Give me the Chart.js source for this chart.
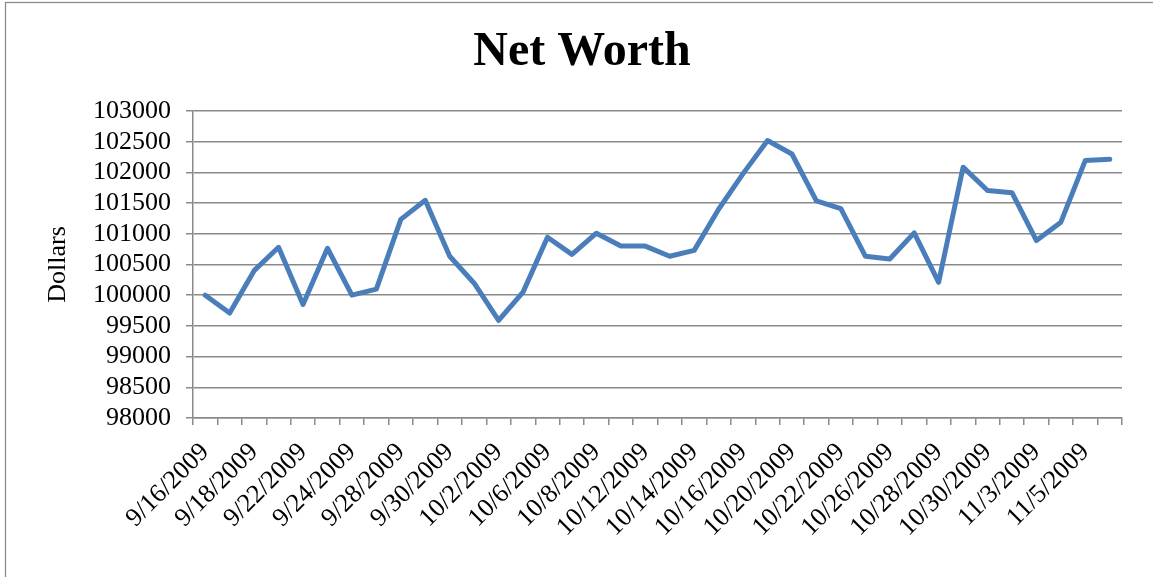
<!DOCTYPE html>
<html>
<head>
<meta charset="utf-8">
<script src="https://cdn.jsdelivr.net/npm/chart.js@4/dist/chart.umd.min.js"></script>
<style>
  html, body { margin: 0; padding: 0; background: #ffffff; }
  #wrap { width: 1153px; height: 577px; position: relative; }
</style>
</head>
<body>
<div id="wrap"><canvas id="c" width="1153" height="577"></canvas></div>
<script>
const categories = [
  '9/16/2009','9/17/2009','9/18/2009','9/21/2009','9/22/2009','9/23/2009','9/24/2009','9/25/2009',
  '9/28/2009','9/29/2009','9/30/2009','10/1/2009','10/2/2009','10/5/2009','10/6/2009','10/7/2009',
  '10/8/2009','10/9/2009','10/12/2009','10/13/2009','10/14/2009','10/15/2009','10/16/2009','10/19/2009',
  '10/20/2009','10/21/2009','10/22/2009','10/23/2009','10/26/2009','10/27/2009','10/28/2009','10/29/2009',
  '10/30/2009','11/2/2009','11/3/2009','11/4/2009','11/5/2009','11/6/2009'
];
const netWorth = [
  100000, 99710, 100400, 100780, 99850, 100765, 100000, 100100,
  101235, 101545, 100635, 100195, 99590, 100050, 100945, 100665,
  101010, 100800, 100800, 100635, 100730, 101400, 101980, 102520,
  102300, 101535, 101410, 100635, 100590, 101015, 100210, 102085,
  101705, 101670, 100890, 101190, 102195, 102215
];
const yMin = 98000;
const yMax = 103000;
const yStep = 500;
const chartTitle = 'Net Worth';
const yTitle = 'Dollars';

const frame = {
  id: 'frame',
  beforeDraw(chart) {
    const ctx = chart.ctx;
    ctx.save();
    ctx.fillStyle = '#ffffff';
    ctx.fillRect(0, 0, chart.width, chart.height);
    ctx.strokeStyle = '#8c8c8c';
    ctx.lineWidth = 1.3;
    ctx.strokeRect(5.5, 2.5, 1300, 800);
    ctx.restore();
  }
};

const serif = "'Liberation Serif', 'Times New Roman', serif";
const gridColor = '#8a8a8a';

new Chart(document.getElementById('c'), {
  type: 'line',
  data: {
    labels: categories,
    datasets: [{
      data: netWorth,
      borderColor: '#4a7ebb',
      backgroundColor: '#4a7ebb',
      borderWidth: 5,
      pointRadius: 0,
      pointHoverRadius: 0,
      tension: 0,
      borderCapStyle: 'round',
      borderJoinStyle: 'round',
      fill: false
    }]
  },
  plugins: [frame],
  options: {
    responsive: false,
    animation: false,
    devicePixelRatio: 1,
    layout: { padding: { left: 42, right: 31, top: 0, bottom: 0 } },
    plugins: {
      legend: { display: false },
      tooltip: { enabled: false },
      title: {
        display: true,
        text: chartTitle,
        color: '#000000',
        font: { family: serif, size: 48, weight: 'bold', lineHeight: 1.2 },
        padding: { top: 24, bottom: 29.4 }
      }
    },
    scales: {
      x: {
        type: 'category',
        offset: true,
        afterFit(scale) { scale.height = 159; },
        grid: {
          offset: true,
          drawOnChartArea: false,
          drawTicks: true,
          tickLength: 7,
          color: gridColor,
          lineWidth: 1.5
        },
        border: { display: true, color: gridColor, width: 1.5 },
        ticks: {
          autoSkip: false,
          minRotation: 45,
          maxRotation: 45,
          padding: 12,
          color: '#000000',
          font: { family: serif, size: 26 },
          callback(value, index) {
            return index % 2 === 0 ? categories[index] : '';
          }
        }
      },
      y: {
        min: yMin,
        max: yMax,
        afterFit(scale) { scale.width = 151; },
        title: {
          display: true,
          text: yTitle,
          color: '#000000',
          font: { family: serif, size: 26, lineHeight: 1.2 },
          padding: { top: 0.5, bottom: 0 }
        },
        grid: {
          drawOnChartArea: true,
          drawTicks: true,
          tickLength: 7,
          color: gridColor,
          lineWidth: 1.5
        },
        border: { display: true, color: gridColor, width: 1.5 },
        ticks: {
          stepSize: yStep,
          autoSkip: false,
          padding: 15,
          color: '#000000',
          font: { family: serif, size: 26 },
          callback(value) { return String(value); }
        }
      }
    }
  }
});
</script>
</body>
</html>
